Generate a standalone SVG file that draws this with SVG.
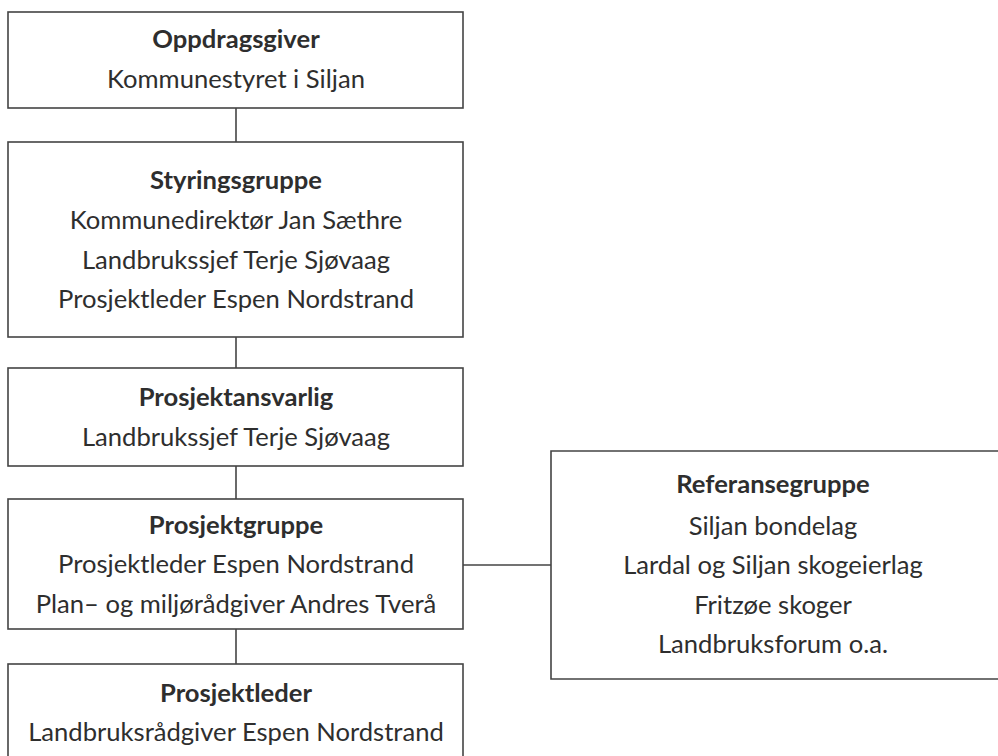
<svg xmlns="http://www.w3.org/2000/svg" width="998" height="756" viewBox="0 0 998 756">
<style>
.box{fill:#fff;stroke:#444;stroke-width:1.6}
.ln{stroke:#444;stroke-width:1.6;fill:none}
text{font-family:Lato,"Open Sans","Liberation Sans",sans-serif;font-size:25.6px;fill:#2e2e2e;text-anchor:middle}
.b{font-weight:bold}
</style>
<rect width="998" height="756" fill="#fff"/>
<g id="connectors">
<line class="ln" x1="236" y1="108" x2="236" y2="142"/>
<line class="ln" x1="236" y1="337" x2="236" y2="368"/>
<line class="ln" x1="236" y1="466" x2="236" y2="499"/>
<line class="ln" x1="236" y1="629" x2="236" y2="664"/>
<line class="ln" x1="463" y1="565" x2="551" y2="565"/>
</g>
<g id="oppdragsgiver">
<rect class="box" x="8" y="12" width="455" height="96"/>
<text class="b" x="236" y="48">Oppdragsgiver</text>
<text x="236" y="88">Kommunestyret i Siljan</text>
</g>
<g id="styringsgruppe">
<rect class="box" x="8" y="142" width="455" height="195"/>
<text class="b" x="236" y="189">Styringsgruppe</text>
<text x="236" y="229">Kommunedirektør Jan Sæthre</text>
<text x="236" y="269">Landbrukssjef Terje Sjøvaag</text>
<text x="236" y="308">Prosjektleder Espen Nordstrand</text>
</g>
<g id="prosjektansvarlig">
<rect class="box" x="8" y="368" width="455" height="98"/>
<text class="b" x="236" y="406">Prosjektansvarlig</text>
<text x="236" y="446">Landbrukssjef Terje Sjøvaag</text>
</g>
<g id="prosjektgruppe">
<rect class="box" x="8" y="499" width="455" height="130"/>
<text class="b" x="236" y="534">Prosjektgruppe</text>
<text x="236" y="573">Prosjektleder Espen Nordstrand</text>
<text x="236" y="613">Plan– og miljørådgiver Andres Tverå</text>
</g>
<g id="prosjektleder">
<rect class="box" x="8" y="664" width="455" height="110"/>
<text class="b" x="236" y="702">Prosjektleder</text>
<text x="236" y="741">Landbruksrådgiver Espen Nordstrand</text>
</g>
<g id="referansegruppe">
<path class="ln" d="M1000,451 H551 V679 H1000"/>
<text class="b" x="773" y="493">Referansegruppe</text>
<text x="773" y="535">Siljan bondelag</text>
<text x="773" y="574">Lardal og Siljan skogeierlag</text>
<text x="773" y="614">Fritzøe skoger</text>
<text x="773" y="653">Landbruksforum o.a.</text>
</g>
</svg>
